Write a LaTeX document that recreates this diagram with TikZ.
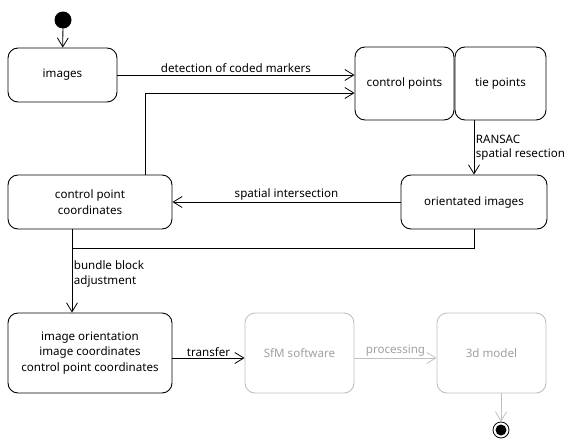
\documentclass[tikz,border=0pt]{standalone}
\usepackage{fontspec}
\setmainfont{Noto Sans}
\usetikzlibrary{arrows.meta}
\usepackage{xcolor}
\definecolor{faded}{RGB}{192,192,192}
\definecolor{fadedtext}{RGB}{160,160,160}

\begin{document}
\begin{tikzpicture}[x=1pt, y=-1pt,
    state/.style = {draw, rounded corners=10pt, align=center, line width=0.9pt,
                inner sep=2pt, font=\fontsize{11.6}{15.5}\selectfont},
    dot/.style = {circle, fill, minimum size=#1,
                inner sep=0pt, outer sep=0pt},
    dot/.default = 17pt,  % diameter of the start dot
    flow/.style = {-{Straight Barb[length=9pt,width=11pt]}, line width=0.8pt},
    lbl/.style = {font=\fontsize{11.6}{14.5}\selectfont, inner sep=1.5pt}
                    ]
    \useasboundingbox (0,0) rectangle (576,439);
    \def\th{54}   % height of the small boxes
    \def\bh{80}   % height of the bottom boxes
    \def\ty{83.5}
    \def\my{202}
    \def\by{353}
    \node[dot] at (63,20) (start) {};
    \node[state, minimum width=109pt, minimum height=\th pt] at (62.5,75) (images) {images};
    \node[state, minimum width=99pt, minimum height=73pt] at (404.5,\ty) (cp) {control points};
    \node[state, minimum width=91pt, minimum height=73pt] at (500.5,\ty) (tie) {tie points};
    \node[state, minimum width=164pt, minimum height=\th pt] at (90,\my) (cpc) {control point\\coordinates};
    \node[state, minimum width=146pt, minimum height=\th pt] at (474,\my) (oi) {orientated images};
    \node[state, minimum width=164pt, minimum height=\bh pt] at (90,\by) (io) {image orientation\\image coordinates\\control point coordinates};
    \node[state, draw=faded, text=fadedtext, minimum width=109pt, minimum height=\bh pt] at (299.5,\by) (sfm) {SfM software};
    \node[state, draw=faded, text=fadedtext, minimum width=109pt, minimum height=\bh pt] at (491.5,\by) (model) {3d model};
    \node[circle, draw, line width=0.8pt, minimum size=16pt, inner sep=0pt] at (501,430) (end) {};
    \node[dot=11pt] at (end) (endcore) {};
    \coordinate (up) at (145,93);
    \coordinate (join) at (72,248);
    \draw[flow] (start) -- (images);
    \draw[flow] (images.east |- 0,75) -- node[lbl, above] (det) {detection of coded markers} (cp.west |- 0,75);
    \draw[flow] (cpc.north -| up) |- (cp.west |- up);
    \draw[flow] (oi.north |- tie.south) -- node[lbl, right, align=left] (ransac) {RANSAC\\spatial resection} (oi.north);
    \draw[flow] (oi.west) -- node[lbl, above] (inter) {spatial intersection} (cpc.east);
    \draw[line width=0.8pt] (oi.south) |- (join);
    \draw[line width=0.8pt] (cpc.south -| join) -- (join);
    \draw[flow] (join) -- node[lbl, right, align=left, pos=0.4] (bba) {bundle block\\adjustment} (join |- io.north);
    \draw[flow] (io.east |- 0,358) -- node[lbl, above, inner sep=1pt] (trans) {transfer} (sfm.west |- 0,358);
    \draw[flow, faded] (sfm.east |- 0,358) -- node[lbl, above, inner sep=1pt, text=fadedtext] (proc) {processing} (model.west |- 0,358);
    \draw[flow, faded] (model.south -| end) -- (end);
\end{tikzpicture}
\end{document}
